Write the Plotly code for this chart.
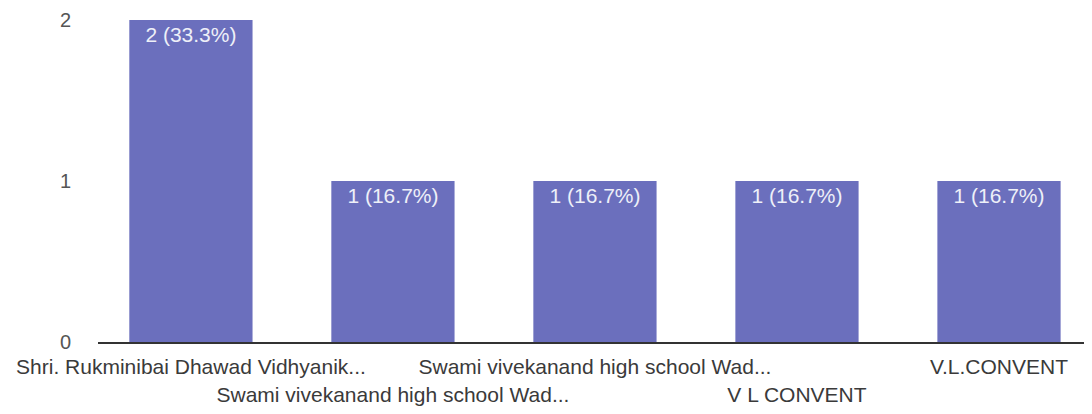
import plotly.graph_objects as go

categories = [
    "Shri. Rukminibai Dhawad Vidhyanik...",
    "Swami vivekanand high school Wad...",
    "Swami vivekanand high school Wad...",
    "V L CONVENT",
    "V.L.CONVENT",
]
counts = [2, 1, 1, 1, 1]
percents = [33.3, 16.7, 16.7, 16.7, 16.7]
y_ticks = [0, 1, 2]

positions = list(range(len(categories)))
labels = [f"{c} ({p}%)" for c, p in zip(counts, percents)]
ticktext = [c if i % 2 == 0 else "\u00a0<br>" + c for i, c in enumerate(categories)]

fig = go.Figure()
fig.add_trace(go.Bar(
    x=positions, y=counts, width=0.61,
    marker=dict(color="#6b6fbd", line=dict(width=0)),
    text=labels, textposition="inside", insidetextanchor="end",
    textfont=dict(color="#eef0f8", size=21, family="Liberation Sans, Arial"),
    cliponaxis=False,
))

fig.update_layout(
    width=1092, height=414,
    margin=dict(l=90, r=0, t=12, b=80),
    paper_bgcolor="white", plot_bgcolor="white",
    showlegend=False,
    font=dict(family="Liberation Sans, Arial", color="#444444", size=21),
)
fig.update_xaxes(
    range=[-0.46, 4.5], tickvals=positions, ticktext=ticktext,
    tickangle=0, automargin=False, ticklabeloverflow="allow",
    showline=True, linecolor="#333333", linewidth=2,
    showgrid=False, zeroline=False, ticks="",
    ticklabelstandoff=5,
    tickfont=dict(size=21, color="#3a3a3a"),
)
fig.update_yaxes(
    range=[0, 2], tickvals=y_ticks, ticktext=[str(v) for v in y_ticks],
    automargin=False, ticklabeloverflow="allow",
    showgrid=False, zeroline=False, ticks="",
    ticklabelstandoff=26,
    tickfont=dict(size=20, color="#555555"),
)

fig.write_html("out.html")
